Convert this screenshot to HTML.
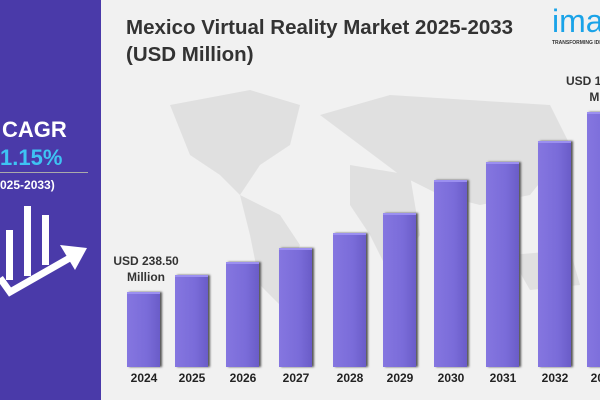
<html><head><style>
body{margin:0;width:600px;height:400px;overflow:hidden;background:#f1f1f1;font-family:"Liberation Sans",sans-serif;position:relative}
.w{position:absolute;left:0;top:0;width:600px;height:400px;overflow:hidden}
.l{position:absolute;left:0;top:0;width:101px;height:400px;background:#4a3aa9}
.t{position:absolute;font-weight:bold;color:#333;white-space:nowrap}
.b{position:absolute;width:33px;bottom:33px;background:linear-gradient(90deg,#8576e0,#7a6cd9 60%,#6a5cc8);border-top:2px solid #9b8ff0;box-shadow:2px 0 2px #555}
.y{position:absolute;top:371px;font-weight:bold;font-size:12px;color:#222;width:50px;text-align:center}
</style></head><body><div class="w">
<svg style="position:absolute;left:130px;top:85px" width="470" height="230"><g fill="#e0e0e0"><path d="M40 20 L120 5 L170 20 L160 60 L130 80 L110 110 L90 90 L60 70 Z"/><path d="M110 110 L150 130 L170 160 L150 220 L130 200 L120 150 Z"/><path d="M190 30 L260 10 L420 20 L440 60 L400 110 L350 120 L310 110 L270 90 L230 60 Z"/><path d="M220 80 L280 90 L290 150 L260 190 L240 150 L220 120 Z"/><path d="M380 170 L440 165 L450 200 L400 205 Z"/></g></svg>
<div class="l"></div>
<div class="t" style="left:2px;top:117px;font-size:22px;color:#fff">CAGR</div>
<div class="t" style="left:0;top:145px;font-size:22px;color:#3ec3f3">1.15%</div>
<div style="position:absolute;left:0;top:172px;width:88px;height:1px;background:#aaa"></div>
<div class="t" style="left:0;top:178px;font-size:12px;color:#fff">025-2033)</div>
<svg style="position:absolute;left:0;top:200px" width="100" height="100"><g fill="#fff"><rect x="6" y="30" width="7" height="50"/><rect x="24" y="6" width="7" height="70"/><rect x="42" y="15" width="7" height="50"/></g><path d="M0 78 L10 92 L75 55" stroke="#fff" stroke-width="7" fill="none"/><path d="M60 45 L87 48 L75 70 Z" fill="#fff"/></svg>
<div class="t" style="left:126px;top:14px;font-size:20.5px;line-height:27px">Mexico Virtual Reality Market 2025-2033<br>(USD Million)</div>
<div class="t" style="left:552px;top:3px;font-size:32px;color:#1aa3e8;font-weight:normal">ima</div>
<div class="t" style="left:552px;top:40px;font-size:5px">TRANSFORMING IDEAS</div>
<div class="t" style="left:110px;top:253px;font-size:12px;line-height:16px;text-align:center;width:72px">USD 238.50<br>Million</div>
<div class="t" style="left:566px;top:73px;font-size:12px;line-height:16px;width:80px">USD 1,<br>&nbsp;&nbsp;&nbsp;&nbsp;&nbsp;&nbsp;&nbsp;Mil</div>
<div class="b" style="left:127px;height:73px"></div>
<div class="b" style="left:175px;height:90px"></div>
<div class="b" style="left:226px;height:103px"></div>
<div class="b" style="left:279px;height:117px"></div>
<div class="b" style="left:333px;height:132px"></div>
<div class="b" style="left:383px;height:152px"></div>
<div class="b" style="left:434px;height:185px"></div>
<div class="b" style="left:486px;height:203px"></div>
<div class="b" style="left:538px;height:224px"></div>
<div class="b" style="left:587px;height:253px"></div>
<div class="y" style="left:119px">2024</div><div class="y" style="left:167px">2025</div><div class="y" style="left:218px">2026</div><div class="y" style="left:271px">2027</div><div class="y" style="left:325px">2028</div><div class="y" style="left:375px">2029</div><div class="y" style="left:426px">2030</div><div class="y" style="left:478px">2031</div><div class="y" style="left:530px">2032</div><div class="y" style="left:579px">2033</div>
</div></body></html>
